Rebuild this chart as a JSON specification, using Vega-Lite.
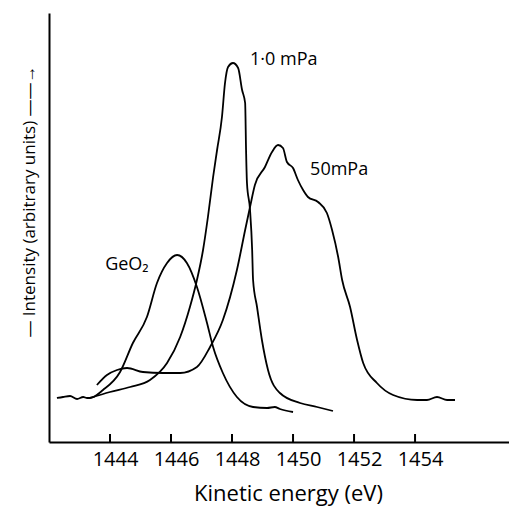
{
  "$schema": "https://vega.github.io/schema/vega-lite/v6.json",
  "width": 460,
  "height": 429,
  "autosize": {"type": "none"},
  "padding": {"left": 49, "top": 13, "right": 0, "bottom": 65},
  "background": "white",
  "config": {"view": {"stroke": null}, "font": "Open Sans"},
  "datasets": {
    "curves": [
      {"series": "GeO2", "energy": 1442.26, "intensity": 44},
      {"series": "GeO2", "energy": 1442.46, "intensity": 45},
      {"series": "GeO2", "energy": 1442.69, "intensity": 46},
      {"series": "GeO2", "energy": 1442.92, "intensity": 43},
      {"series": "GeO2", "energy": 1443.12, "intensity": 45},
      {"series": "GeO2", "energy": 1443.25, "intensity": 44},
      {"series": "GeO2", "energy": 1443.34, "intensity": 44},
      {"series": "GeO2", "energy": 1443.77, "intensity": 52},
      {"series": "GeO2", "energy": 1444.33, "intensity": 70},
      {"series": "GeO2", "energy": 1444.75, "intensity": 99},
      {"series": "GeO2", "energy": 1445.21, "intensity": 125},
      {"series": "GeO2", "energy": 1445.54, "intensity": 159},
      {"series": "GeO2", "energy": 1445.87, "intensity": 179},
      {"series": "GeO2", "energy": 1446.2, "intensity": 187},
      {"series": "GeO2", "energy": 1446.52, "intensity": 179},
      {"series": "GeO2", "energy": 1446.85, "intensity": 155},
      {"series": "GeO2", "energy": 1447.18, "intensity": 119},
      {"series": "GeO2", "energy": 1447.38, "intensity": 95},
      {"series": "GeO2", "energy": 1447.7, "intensity": 69},
      {"series": "GeO2", "energy": 1448.16, "intensity": 45},
      {"series": "GeO2", "energy": 1448.69, "intensity": 35},
      {"series": "GeO2", "energy": 1449.15, "intensity": 34},
      {"series": "GeO2", "energy": 1449.4, "intensity": 35},
      {"series": "GeO2", "energy": 1449.57, "intensity": 33},
      {"series": "GeO2", "energy": 1450.0, "intensity": 30},
      {"series": "1.0mPa", "energy": 1443.34, "intensity": 44},
      {"series": "1.0mPa", "energy": 1444.0, "intensity": 50},
      {"series": "1.0mPa", "energy": 1444.66, "intensity": 55},
      {"series": "1.0mPa", "energy": 1445.31, "intensity": 62},
      {"series": "1.0mPa", "energy": 1445.87, "intensity": 79},
      {"series": "1.0mPa", "energy": 1446.3, "intensity": 105},
      {"series": "1.0mPa", "energy": 1446.62, "intensity": 135},
      {"series": "1.0mPa", "energy": 1446.85, "intensity": 162},
      {"series": "1.0mPa", "energy": 1447.05, "intensity": 192},
      {"series": "1.0mPa", "energy": 1447.21, "intensity": 225},
      {"series": "1.0mPa", "energy": 1447.38, "intensity": 265},
      {"series": "1.0mPa", "energy": 1447.51, "intensity": 292},
      {"series": "1.0mPa", "energy": 1447.67, "intensity": 325},
      {"series": "1.0mPa", "energy": 1447.77, "intensity": 359},
      {"series": "1.0mPa", "energy": 1447.87, "intensity": 375},
      {"series": "1.0mPa", "energy": 1448.03, "intensity": 379},
      {"series": "1.0mPa", "energy": 1448.2, "intensity": 374},
      {"series": "1.0mPa", "energy": 1448.33, "intensity": 352},
      {"series": "1.0mPa", "energy": 1448.43, "intensity": 339},
      {"series": "1.0mPa", "energy": 1448.46, "intensity": 292},
      {"series": "1.0mPa", "energy": 1448.49, "intensity": 259},
      {"series": "1.0mPa", "energy": 1448.59, "intensity": 232},
      {"series": "1.0mPa", "energy": 1448.66, "intensity": 192},
      {"series": "1.0mPa", "energy": 1448.69, "intensity": 162},
      {"series": "1.0mPa", "energy": 1448.82, "intensity": 135},
      {"series": "1.0mPa", "energy": 1448.98, "intensity": 102},
      {"series": "1.0mPa", "energy": 1449.18, "intensity": 72},
      {"series": "1.0mPa", "energy": 1449.57, "intensity": 49},
      {"series": "1.0mPa", "energy": 1450.23, "intensity": 39},
      {"series": "1.0mPa", "energy": 1450.79, "intensity": 35},
      {"series": "1.0mPa", "energy": 1451.31, "intensity": 31},
      {"series": "50mPa", "energy": 1443.57, "intensity": 57},
      {"series": "50mPa", "energy": 1443.9, "intensity": 67},
      {"series": "50mPa", "energy": 1444.23, "intensity": 72},
      {"series": "50mPa", "energy": 1444.56, "intensity": 74},
      {"series": "50mPa", "energy": 1445.08, "intensity": 70},
      {"series": "50mPa", "energy": 1445.74, "intensity": 69},
      {"series": "50mPa", "energy": 1446.3, "intensity": 69},
      {"series": "50mPa", "energy": 1446.85, "intensity": 75},
      {"series": "50mPa", "energy": 1447.28, "intensity": 95},
      {"series": "50mPa", "energy": 1447.7, "intensity": 122},
      {"series": "50mPa", "energy": 1448.16, "intensity": 172},
      {"series": "50mPa", "energy": 1448.43, "intensity": 212},
      {"series": "50mPa", "energy": 1448.59, "intensity": 235},
      {"series": "50mPa", "energy": 1448.75, "intensity": 257},
      {"series": "50mPa", "energy": 1449.08, "intensity": 275},
      {"series": "50mPa", "energy": 1449.31, "intensity": 290},
      {"series": "50mPa", "energy": 1449.51, "intensity": 297},
      {"series": "50mPa", "energy": 1449.67, "intensity": 294},
      {"series": "50mPa", "energy": 1449.8, "intensity": 280},
      {"series": "50mPa", "energy": 1450.0, "intensity": 274},
      {"series": "50mPa", "energy": 1450.16, "intensity": 262},
      {"series": "50mPa", "energy": 1450.33, "intensity": 252},
      {"series": "50mPa", "energy": 1450.49, "intensity": 245},
      {"series": "50mPa", "energy": 1450.82, "intensity": 240},
      {"series": "50mPa", "energy": 1451.11, "intensity": 229},
      {"series": "50mPa", "energy": 1451.28, "intensity": 212},
      {"series": "50mPa", "energy": 1451.48, "intensity": 185},
      {"series": "50mPa", "energy": 1451.61, "intensity": 162},
      {"series": "50mPa", "energy": 1451.87, "intensity": 135},
      {"series": "50mPa", "energy": 1452.1, "intensity": 102},
      {"series": "50mPa", "energy": 1452.3, "intensity": 79},
      {"series": "50mPa", "energy": 1452.75, "intensity": 59},
      {"series": "50mPa", "energy": 1453.28, "intensity": 47},
      {"series": "50mPa", "energy": 1454.07, "intensity": 42},
      {"series": "50mPa", "energy": 1454.39, "intensity": 42},
      {"series": "50mPa", "energy": 1454.72, "intensity": 45},
      {"series": "50mPa", "energy": 1455.05, "intensity": 42},
      {"series": "50mPa", "energy": 1455.31, "intensity": 42}
    ],
    "labels": [
      {"energy": 1448.59, "intensity": 382, "label": "1·0 mPa"},
      {"energy": 1450.56, "intensity": 272, "label": "50mPa"},
      {"energy": 1443.84, "intensity": 177, "label": "GeO₂"}
    ],
    "ticks": [
      {"tick": 1444}, {"tick": 1446}, {"tick": 1448}, {"tick": 1450}, {"tick": 1452}, {"tick": 1454}
    ]
  },
  "layer": [
    {
      "data": {"name": "curves"},
      "mark": {"type": "line", "color": "black", "strokeWidth": 1.8, "interpolate": "monotone"},
      "encoding": {
        "x": {
          "field": "energy", "type": "quantitative",
          "scale": {"domain": [1442, 1457.08], "nice": false, "zero": false},
          "axis": {
            "values": [1444, 1446, 1448, 1450, 1452, 1454],
            "format": "d",
            "grid": false,
            "ticks": false,
            "domainColor": "black", "domainWidth": 2,
            "labelFontSize": 20, "labelColor": "black", "labelPadding": 7, "labelOffset": 5,
            "title": "Kinetic energy (eV)", "titleFontSize": 22, "titleFontWeight": "normal", "titleColor": "black",
            "titleX": 239, "titleY": 41, "titleBaseline": "top", "titleAlign": "center"
          }
        },
        "y": {
          "field": "intensity", "type": "quantitative",
          "scale": {"domain": [0, 429], "nice": false},
          "axis": {
            "ticks": false, "labels": false, "grid": false,
            "domainColor": "black", "domainWidth": 2,
            "title": "— Intensity (arbitrary units) ——→", "titleFontSize": 17, "titleFontWeight": "normal", "titleColor": "black",
            "titleX": -20, "titleY": 188, "titleAngle": -90, "titleBaseline": "middle", "titleAlign": "center"
          }
        },
        "detail": {"field": "series"}
      }
    },
    {
      "data": {"name": "ticks"},
      "mark": {"type": "rule", "color": "black", "strokeWidth": 2},
      "encoding": {
        "x": {"field": "tick", "type": "quantitative"},
        "y": {"datum": 0},
        "y2": {"datum": 8}
      }
    },
    {
      "data": {"name": "labels"},
      "mark": {"type": "text", "align": "left", "baseline": "middle", "fontSize": 18, "color": "black"},
      "encoding": {
        "x": {"field": "energy", "type": "quantitative"},
        "y": {"field": "intensity", "type": "quantitative"},
        "text": {"field": "label"}
      }
    }
  ]
}
